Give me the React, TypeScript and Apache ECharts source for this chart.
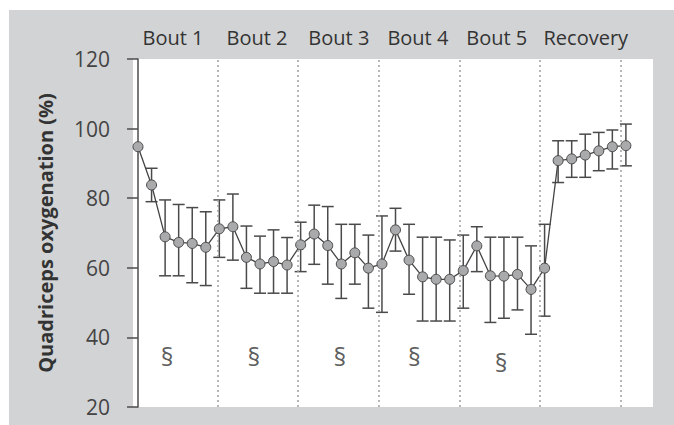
import React, { useEffect, useRef } from "react";
import * as echarts from "echarts";

// Mean quadriceps oxygenation (%) per sample, with SD bounds
const sampleMeans = [
  94.8, 83.8, 68.9, 67.3, 67.0, 65.9, 71.2, 71.8, 63.0, 61.1, 61.8, 60.8, 66.6,
  69.7, 66.4, 61.1, 64.3, 59.9, 61.1, 70.9, 62.2, 57.4, 56.7, 56.7, 59.2, 66.3,
  57.7, 57.6, 58.1, 53.8, 59.9, 90.8, 91.3, 92.4, 93.6, 94.8, 95.1,
];
const upperBounds = [
  null, 88.6, 79.5, 78.2, 77.3, 76.1, 79.5, 81.2, 72.0, 69.1, 70.9, 68.7, 73.1,
  78.0, 77.6, 72.5, 72.5, 69.4, 74.9, 77.1, 72.5, 68.8, 68.8, 68.0, 69.4, 71.8,
  68.8, 68.8, 68.8, 66.3, 72.5, 96.5, 96.5, 98.4, 98.9, 99.6, 101.3,
];
const lowerBounds = [
  null, 79.0, 57.7, 57.7, 55.7, 54.9, 63.0, 62.2, 54.1, 52.7, 52.7, 52.7, 58.9,
  61.0, 55.3, 51.2, 55.3, 48.4, 47.2, 64.8, 52.4, 44.7, 44.7, 44.7, 48.4, 58.9,
  44.3, 45.5, 47.9, 40.9, 46.1, 84.5, 86.0, 86.0, 87.9, 88.4, 89.3,
];

// Phase headers and their centres on the sample axis
const phaseNames = ["Bout 1", "Bout 2", "Bout 3", "Bout 4", "Bout 5", "Recovery"];
const phaseCentres = [2.58, 8.78, 14.82, 20.65, 26.47, 33.04];
// Dotted separators between phases
const phaseBoundaries = [5.9, 11.77, 17.78, 23.75, 29.66, 35.63];

// Significance markers (§) below each bout
const sigMarkX = [2.15, 8.55, 14.9, 20.4, 26.8];
const sigMarkY = [34.7, 34.7, 34.7, 34.7, 33.0];

const yTicks = { min: 20, max: 120, interval: 20 };

const FONT = "'Open Sans', 'Noto Sans', sans-serif";

export default function App() {
  const ref = useRef<HTMLDivElement>(null);

  useEffect(() => {
    if (!ref.current) return;
    const chart = echarts.init(ref.current, null, { renderer: "svg" });

    const lineData = sampleMeans.map((v, i) => [i, v]);
    const errData = sampleMeans
      .map((_, i) => [i, lowerBounds[i], upperBounds[i]])
      .filter((d) => d[1] != null && d[2] != null);
    const sigData = sigMarkX.map((x, i) => [x, sigMarkY[i]]);

    chart.setOption({
      animation: false,
      backgroundColor: "#ffffff",
      graphic: [
        {
          id: "panel",
          type: "rect",
          z: -10,
          silent: true,
          shape: { x: 9, y: 10, width: 665, height: 415 },
          style: { fill: "#d2d3d5" },
        },
      ],
      grid: {
        left: 133,
        top: 59,
        right: 21,
        bottom: 18,
        show: true,
        backgroundColor: "#ffffff",
        borderWidth: 0,
      },
      xAxis: {
        type: "value",
        min: -0.37,
        max: 38,
        show: false,
      },
      yAxis: {
        type: "value",
        min: yTicks.min,
        max: yTicks.max,
        interval: yTicks.interval,
        name: "Quadriceps oxygenation (%)",
        nameLocation: "middle",
        nameGap: 78,
        nameTextStyle: {
          fontFamily: FONT,
          fontWeight: "bold",
          fontSize: 20,
          color: "#333333",
        },
        axisLine: { show: true, lineStyle: { color: "#4d4d4d", width: 1.5 } },
        axisTick: {
          show: true,
          length: 11,
          lineStyle: { color: "#4d4d4d", width: 1.5 },
        },
        axisLabel: {
          margin: 23,
          fontFamily: FONT,
          fontSize: 21,
          color: "#444444",
        },
        splitLine: { show: false },
      },
      series: [
        {
          type: "custom",
          z: 2,
          renderItem: (params: any, api: any) => {
            const x = api.value(0);
            const lo = api.coord([x, api.value(1)]);
            const hi = api.coord([x, api.value(2)]);
            const hw = 6;
            const style = { stroke: "#4a4a4a", lineWidth: 1.5 };
            return {
              type: "group",
              children: [
                { type: "line", shape: { x1: lo[0], y1: lo[1], x2: hi[0], y2: hi[1] }, style },
                { type: "line", shape: { x1: hi[0] - hw, y1: hi[1], x2: hi[0] + hw, y2: hi[1] }, style },
                { type: "line", shape: { x1: lo[0] - hw, y1: lo[1], x2: lo[0] + hw, y2: lo[1] }, style },
              ],
            };
          },
          data: errData,
          markLine: {
            silent: true,
            symbol: "none",
            label: { show: false },
            lineStyle: { color: "#a0a0a0", type: [2, 3], width: 1.5 },
            data: phaseBoundaries.map((b) => ({ xAxis: b })),
          },
        },
        {
          type: "line",
          z: 3,
          data: lineData,
          symbol: "circle",
          symbolSize: 10,
          lineStyle: { color: "#444444", width: 1.3 },
          itemStyle: { color: "#a9aaac", borderColor: "#4a4a4a", borderWidth: 1 },
        },
        {
          type: "scatter",
          z: 4,
          symbolSize: 0,
          data: sigData,
          label: {
            show: true,
            position: "inside",
            formatter: "§",
            fontFamily: FONT,
            fontSize: 25,
            color: "#333333",
          },
        },
      ],
    });

    const headerGraphics = phaseNames.map((name, i) => {
      const px = chart.convertToPixel({ xAxisIndex: 0 }, phaseCentres[i]) as number;
      return {
        id: "phase" + i,
        type: "text",
        x: px,
        y: 37,
        style: {
          text: name,
          fontFamily: FONT,
          fontSize: 20,
          fill: "#333333",
          align: "center",
          verticalAlign: "middle",
        },
      };
    });
    chart.setOption({ graphic: headerGraphics });

    return () => chart.dispose();
  }, []);

  return (
    <div
      ref={ref}
      style={{ position: "fixed", left: 0, top: 0, width: 674, height: 425 }}
    />
  );
}
